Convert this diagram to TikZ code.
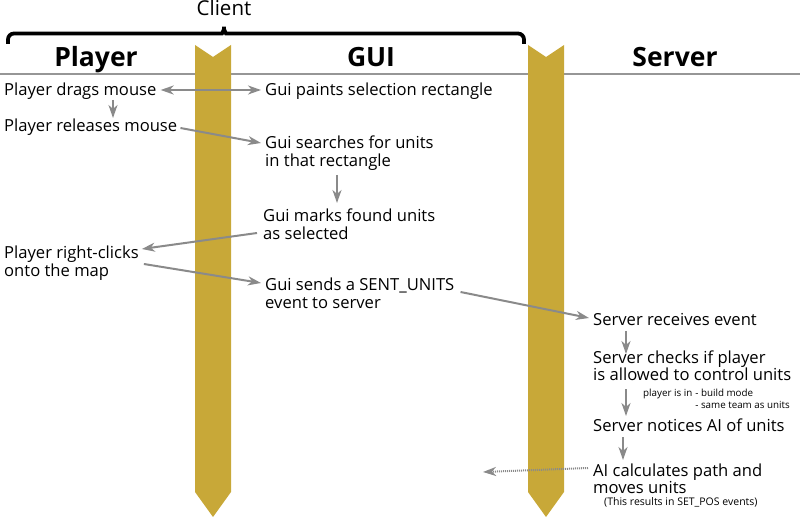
\documentclass[tikz,border=0pt]{standalone}
\usepackage{fontspec}
\setmainfont{Open Sans}
\usetikzlibrary{arrows.meta}
\definecolor{gold}{RGB}{200,168,56}
\definecolor{arrgray}{RGB}{138,138,138}
\definecolor{linegray}{RGB}{150,150,150}
\newcommand\twolines[2]{\begin{tabular}[t]{@{}l@{}}#1\\#2\end{tabular}}
\begin{document}
\begin{tikzpicture}[x=1pt,y=-1pt,
 txt/.style={anchor=base west, inner sep=0pt, font=\fontsize{16.6}{17.5}\selectfont},
 small/.style={anchor=base west, inner sep=0pt, font=\fontsize{10.5}{12}\selectfont},
 note/.style={anchor=base west, inner sep=0pt, font=\fontsize{9.8}{12}\selectfont},
 head/.style={anchor=base, inner sep=0pt, font=\fontsize{26.5}{28}\selectfont\bfseries},
 tip/.style={-{Stealth[length=13pt,width=9pt,inset=4pt]}},
 arr/.style={draw=arrgray, line width=2pt, tip},
 dotarr/.style={draw=arrgray, line width=2pt, dash pattern=on 1pt off 1pt, tip},
 pillar/.style={fill=gold, draw=none},
 brace/.style={draw=black, line width=3.8pt, rounded corners=6pt}]
\useasboundingbox (0,0) rectangle (800,518);
% separator line
\draw[linegray, line width=1.5pt] (0,74) -- (800,74);
% pillars
\fill[pillar] (195,45) -- (213,57) -- (231,45) -- (231,492) -- (213,517) -- (195,492) -- cycle;
\fill[pillar] (528,45) -- (546,57) -- (564,45) -- (564,492) -- (546,517) -- (528,492) -- cycle;
% brace
\draw[brace] (8,44) |- (216,33.5) .. controls (222,33.5) and (224,30) .. (224,23) .. controls (224,30) and (226,33.5) .. (232,33.5) -| (524,44);
\node[anchor=base, inner sep=0pt, font=\fontsize{20.5}{22}\selectfont] (client) at (224,16) {Client};
% headings
\node[head] (hplayer) at (96,67) {Player};
\node[head] (hgui) at (371,67) {GUI};
\node[head] (hserver) at (675,67) {Server};
% texts
\node[txt] (pdm) at (4,96) {Player drags mouse};
\node[txt] (gps) at (265,96) {Gui paints selection rectangle};
\node[txt] (prm) at (4,132) {Player releases mouse};
\node[txt] (gsu) at (265,149) {\twolines{Gui searches for units}{in that rectangle}};
\node[txt] (gmf) at (263,222) {\twolines{Gui marks found units}{as selected}};
\node[txt] (prc) at (4,259) {\twolines{Player right-clicks}{onto the map}};
\node[txt] (gss) at (265,291) {\twolines{Gui sends a SENT\_UNITS}{event to server}};
\node[txt] (sre) at (593,326) {Server receives event};
\node[txt] (sci) at (593,363) {\twolines{Server checks if player}{is allowed to control units}};
\node[note] (notes) at (643,396) {\begin{tabular}[t]{@{}l@{\hspace{3pt}}l@{}}player is in & - build mode\\ & - same team as units\end{tabular}};
\node[txt] (sna) at (593,431) {Server notices AI of units};
\node[txt] (aic) at (593,476) {\twolines{AI calculates path and}{moves units}};
\node[small] (res) at (604,505) {(This results in SET\_POS events)};
\coordinate (clientside) at (483,472);
% arrows
\draw[arr, {Stealth[length=13pt,width=9pt,inset=4pt]}-{Stealth[length=13pt,width=9pt,inset=4pt]}] ([shift={(4,-6)}]pdm.base east) -- ([shift={(-4,-6)}]gps.base west);
\draw[arr] ([shift={(109,4)}]pdm.base west) -- ([shift={(109,-14)}]prm.base west);
\draw[arr] ([shift={(3,-4)}]prm.base east) -- ([shift={(-4,-6)}]gsu.base west);
\draw[arr] ([shift={(72,26)}]gsu.base west) -- ([shift={(74,-19)}]gmf.base west);
\draw[arr] ([shift={(-6,11)}]gmf.base west) -- ([shift={(3,-10)}]prc.base east);
\draw[arr] ([shift={(5,5)}]prc.base east) -- ([shift={(-4,-8)}]gss.base west);
\draw[arr] ([shift={(6,1)}]gss.base east) -- ([shift={(-4,-8)}]sre.base west);
\draw[arr] ([shift={(33,5)}]sre.base west) -- ([shift={(33,-9)}]sci.base west);
\draw[arr] ([shift={(33,26)}]sci.base west) -- ([shift={(33,-15)}]sna.base west);
\draw[arr] ([shift={(30,6)}]sna.base west) -- ([shift={(30,-16)}]aic.base west);
\draw[dotarr] ([shift={(-5,-8)}]aic.base west) -- (clientside);
\end{tikzpicture}
\end{document}
